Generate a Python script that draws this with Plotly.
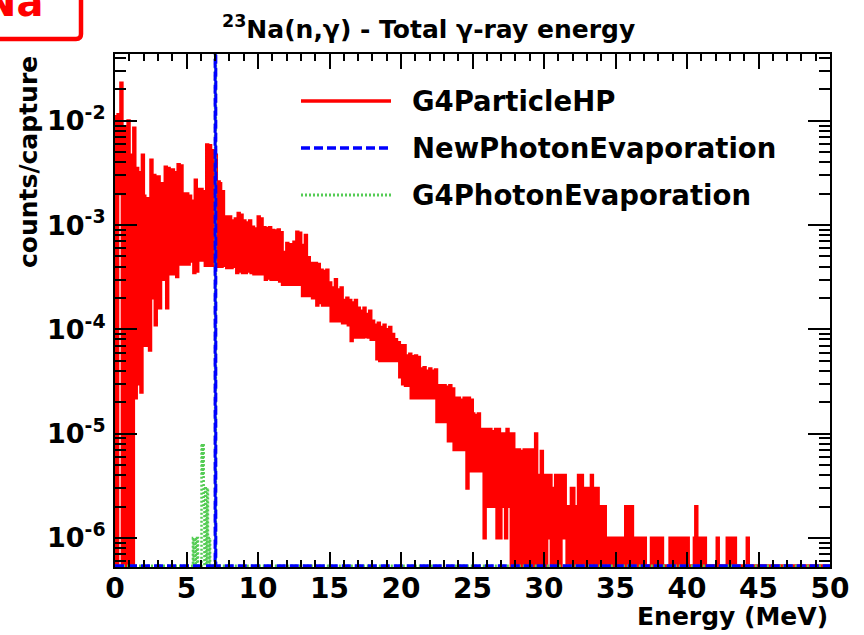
import numpy as np
import plotly.graph_objects as go

# ---------------------------------------------------------------------------
# Total gamma-ray energy per capture, 23Na(n,gamma)
# ---------------------------------------------------------------------------
E_MIN, E_MAX = 0.0, 50.0
HP_BIN = 0.1          # MeV, G4ParticleHP histogram binning
PE_BIN = 0.05         # MeV, photon-evaporation histogram binning

# G4ParticleHP: counts/capture, one row per MeV (10 bins of 0.1 MeV each)
hp_counts = [
    1.1e-2, 0, 1.15e-2, 2e-3, 2.3e-2, 0, 6e-3, 8.8e-3, 0, 1e-2,                      # 0
    0, 4.7e-3, 0, 8.5e-3, 2.2e-5, 3.5e-3, 3e-5, 3.2e-3, 2.5e-5, 4.7e-3,              # 1
    1.9e-3, 7e-5, 1.8e-3, 1.2e-4, 6.3e-5, 4.2e-3, 2e-4, 3e-3, 1.1e-4, 2.9e-3,        # 2
    2.9e-3, 1.6e-4, 2.5e-3, 2.4e-3, 3e-4, 3.6e-3, 1.6e-4, 3.5e-3, 3.4e-4, 3.3e-3,    # 3
    3.4e-3, 3.4e-4, 3.2e-3, 3.2e-4, 3.8e-3, 4.2e-4, 3.7e-3, 2e-3, 4.2e-4, 1.9e-3,    # 4
    2e-3, 4.2e-4, 1.9e-3, 4.5e-4, 1.7e-3, 3.5e-4, 2.7e-3, 3.6e-4, 2.2e-3, 4.6e-4,    # 5
    2.2e-3, 4.6e-4, 2.1e-3, 4.1e-4, 5.9e-3, 4.1e-4, 5.8e-3, 3.6e-3, 4.1e-4, 5.2e-3,  # 6
    4.7e-3, 4e-4, 2.6e-3, 2.5e-3, 4e-4, 2.1e-3, 4.1e-4, 1.2e-3, 3.9e-4, 1.1e-3,      # 7
    1.2e-3, 3.9e-4, 1.1e-3, 4e-4, 1.15e-3, 3.5e-4, 1.3e-3, 3.6e-4, 1.25e-3, 3.5e-4,  # 8
    1.1e-3, 3.5e-4, 1.05e-3, 3.6e-4, 1.1e-3, 3.5e-4, 9.6e-4, 3.4e-4, 9.2e-4, 3.4e-4, # 9
    1.2e-3, 3.4e-4, 1.15e-3, 3.4e-4, 9.5e-4, 3e-4, 9.3e-4, 3.1e-4, 9.5e-4, 3e-4,     # 10
    8.9e-4, 3e-4, 8.8e-4, 3e-4, 9e-4, 2.9e-4, 8.5e-4, 2.7e-4, 5.5e-4, 2.7e-4,        # 11
    6.7e-4, 2.7e-4, 6.5e-4, 2.7e-4, 5.8e-4, 6.9e-4, 2.7e-4, 8.6e-4, 2.7e-4, 8.4e-4,  # 12
    6.4e-4, 2.1e-4, 6.2e-4, 8e-4, 2.1e-4, 4.9e-4, 2.1e-4, 4.3e-4, 2e-4, 4.2e-4,      # 13
    4.3e-4, 1.7e-4, 4.2e-4, 1.8e-4, 3.7e-4, 1.7e-4, 3.6e-4, 1.7e-4, 3.7e-4, 1.7e-4,  # 14
    2.8e-4, 1.2e-4, 2.5e-4, 1.2e-4, 3e-4, 1.2e-4, 2.4e-4, 1.2e-4, 2.5e-4, 1.15e-4,   # 15
    1.9e-4, 1.15e-4, 2e-4, 1.1e-4, 1.9e-4, 7.8e-5, 1.8e-4, 8.4e-5, 1.9e-4, 8.4e-5,   # 16
    1.6e-4, 8.4e-5, 1.5e-4, 8.4e-5, 1.6e-4, 8.5e-5, 1.4e-4, 8.4e-5, 1.5e-4, 8e-5,    # 17
    1.2e-4, 8e-5, 1.1e-4, 5.2e-5, 1.15e-4, 5e-5, 1.05e-4, 5e-5, 1.1e-4, 5e-5,        # 18
    1e-4, 5e-5, 1.05e-4, 5e-5, 9e-5, 5e-5, 8e-5, 5e-5, 7.5e-5, 3.5e-5,               # 19
    7e-5, 3e-5, 7e-5, 2.9e-5, 5.6e-5, 2.9e-5, 5.8e-5, 2.2e-5, 5.5e-5, 2.2e-5,        # 20
    5.6e-5, 2.2e-5, 5.4e-5, 2.2e-5, 4.2e-5, 2.2e-5, 4.3e-5, 2.2e-5, 4e-5, 2.2e-5,    # 21
    4.2e-5, 2.2e-5, 4e-5, 2.2e-5, 4.1e-5, 1.3e-5, 2.9e-5, 1.3e-5, 2.9e-5, 1.3e-5,    # 22
    2.9e-5, 1.3e-5, 2.8e-5, 8.5e-6, 2.9e-5, 8.5e-6, 2.7e-5, 7e-6, 2.2e-5, 7e-6,      # 23
    2.2e-5, 7e-6, 2.1e-5, 7e-6, 2.2e-5, 7e-6, 3e-6, 2.2e-5, 4.4e-6, 2.1e-5,          # 24
    1.55e-5, 4.4e-6, 1.5e-5, 4.4e-6, 1.55e-5, 4.4e-6, 1.1e-5, 4.4e-6, 1e-6, 1.1e-5,  # 25
    1.1e-5, 2e-6, 1.1e-5, 2e-6, 1.05e-5, 2e-6, 1.1e-5, 1e-6, 1.1e-5, 1e-6,           # 26
    1e-5, 2e-6, 1e-5, 1e-6, 1.1e-5, 2e-6, 1e-5, 0, 1e-5, 0,                          # 27
    7e-6, 0, 7e-6, 0, 6.8e-6, 0, 7e-6, 1e-6, 0, 7e-6,                                # 28
    0, 7e-6, 0, 4e-6, 1e-5, 0, 4e-6, 0, 6.8e-6, 0,                                   # 29
    4e-6, 0, 4e-6, 1e-6, 4e-6, 0, 3e-6, 0, 4e-6, 0,                                  # 30
    4e-6, 0, 4e-6, 1e-6, 4e-6, 2e-6, 0, 2e-6, 0, 3e-6,                               # 31
    3e-6, 0, 2e-6, 0, 4e-6, 0, 4e-6, 2e-6, 0, 3e-6,                                  # 32
    3e-6, 0, 3e-6, 4e-6, 0, 3e-6, 0, 3e-6, 1e-6, 0,                                  # 33
    2e-6, 0, 2e-6, 0, 1e-6, 0, 1e-6, 1e-6, 0, 1e-6,                                  # 34
    0, 1e-6, 0, 1e-6, 1e-6, 0, 1e-6, 2e-6, 0, 2e-6,                                  # 35
    0, 2e-6, 1e-6, 0, 1e-6, 0, 1e-6, 1e-6, 0, 1e-6,                                  # 36
    1e-6, 0, 0, 0, 0, 1e-6, 0, 1e-6, 1e-6, 0,                                        # 37
    1e-6, 0, 1e-6, 0, 0, 0, 0, 0, 1e-6, 0,                                           # 38
    1e-6, 0, 1e-6, 0, 0, 1e-6, 0, 1e-6, 0, 1e-6,                                     # 39
    1e-6, 0, 0, 0, 0, 1e-6, 2e-6, 0, 0, 1e-6,                                        # 40
    1e-6, 0, 1e-6, 0, 0, 0, 0, 0, 0, 0,                                              # 41
    0, 1e-6, 0, 0, 0, 0, 0, 0, 1e-6, 0,                                              # 42
    1e-6, 0, 0, 1e-6, 0, 0, 0, 0, 0, 0,                                              # 43
    0, 0, 1e-6, 0, 0, 0, 0, 0, 0, 0,                                                 # 44
    0, 0, 0, 0, 0, 0, 0, 0, 0, 0,                                                    # 45
    0, 0, 0, 0, 0, 0, 0, 0, 0, 0,                                                    # 46
    0, 0, 0, 0, 0, 0, 0, 0, 0, 0,                                                    # 47
    0, 0, 0, 0, 0, 0, 0, 0, 0, 0,                                                    # 48
    0, 0, 0, 0, 0, 0, 0, 0, 0, 0,                                                    # 49
]

# Photon evaporation models: only the non-empty bins (lower edge in MeV)
new_pe_edges = [7.0]
new_pe_counts = [1.0]

g4_pe_edges = [5.45, 5.6, 5.75, 6.05, 6.1, 6.15, 6.2, 6.3, 6.35, 6.45, 6.5, 6.6, 7.0]
g4_pe_counts = [1e-6, 1e-6, 1e-6, 8e-6, 4e-6, 8e-6, 2e-6, 3e-6, 2e-6, 3e-6, 1e-6, 1e-6, 0.98]

series_names = ["G4ParticleHP", "NewPhotonEvaporation", "G4PhotonEvaporation"]
series_colors = ["#ff0000", "#0000ff", "#55cc55"]

# y axis: decades and their labels
y_tick_vals = [1e-6, 1e-5, 1e-4, 1e-3, 1e-2]
y_tick_text = ["10<sup>-6</sup>", "10<sup>-5</sup>", "10<sup>-4</sup>",
               "10<sup>-3</sup>", "10<sup>-2</sup>"]
x_tick_vals = [0, 5, 10, 15, 20, 25, 30, 35, 40, 45, 50]

Y_LOG_RANGE = [-6.278, -1.36]
# empty bins are drawn along the lower frame edge, as ROOT does on log scale
FLOOR = 10 ** (Y_LOG_RANGE[0] + 0.012)


def dense_from_sparse(edges, counts, width):
    n = int(round((E_MAX - E_MIN) / width))
    dense = np.zeros(n)
    for e, c in zip(edges, counts):
        dense[int(round((e - E_MIN) / width))] = c
    return dense


def step_outline(counts, width):
    counts = np.maximum(np.asarray(counts, dtype=float), FLOOR)
    edges = E_MIN + width * np.arange(len(counts) + 1)
    xs = np.concatenate([[E_MIN], np.repeat(edges, 2)[1:-1], [E_MAX]])
    ys = np.concatenate([[FLOOR], np.repeat(counts, 2), [FLOOR]])
    return xs, ys


fig = go.Figure()

x_hp, y_hp = step_outline(hp_counts, HP_BIN)
fig.add_trace(go.Scatter(x=x_hp, y=y_hp, mode="lines", name=series_names[0],
                         line=dict(color=series_colors[0], width=3)))

x_g4, y_g4 = step_outline(dense_from_sparse(g4_pe_edges, g4_pe_counts, PE_BIN), PE_BIN)
fig.add_trace(go.Scatter(x=x_g4, y=y_g4, mode="lines", name=series_names[2],
                         line=dict(color=series_colors[2], width=2.5, dash="2px,2px")))

x_new, y_new = step_outline(dense_from_sparse(new_pe_edges, new_pe_counts, PE_BIN), PE_BIN)
fig.add_trace(go.Scatter(x=x_new, y=y_new, mode="lines", name=series_names[1],
                         line=dict(color=series_colors[1], width=3, dash="9px,4px")))

# ---------------------------------------------------------------------------
# layout
# ---------------------------------------------------------------------------
W, H = 864, 635
ML, MR, MT, MB = 115, 34, 54, 68
PW, PH = W - ML - MR, H - MT - MB
FONT = "DejaVu Sans"


def px_x(p):
    return (p - ML) / PW


def px_y(p):
    return (H - MB - p) / PH


minor_log_ticks = [k * 10.0 ** n for n in range(-7, -1) for k in range(2, 10)]

fig.update_layout(
    width=W, height=H,
    margin=dict(l=ML, r=MR, t=MT, b=MB),
    paper_bgcolor="white", plot_bgcolor="white",
    showlegend=False,
    font=dict(family=FONT, size=26, color="black", weight="bold"),
)

fig.update_xaxes(
    range=[E_MIN, E_MAX], tickmode="array", tickvals=x_tick_vals,
    ticks="inside", ticklen=15, tickwidth=2, tickcolor="black",
    minor=dict(dtick=1, ticks="inside", ticklen=7, tickwidth=1.5, tickcolor="black"),
    showline=True, linewidth=2, linecolor="black", mirror="allticks",
    showgrid=False, zeroline=False, ticklabelstandoff=-5,
    tickfont=dict(family=FONT, size=28, color="black", weight="bold"),
)

fig.update_yaxes(
    type="log", range=Y_LOG_RANGE, tickmode="array",
    tickvals=y_tick_vals, ticktext=y_tick_text,
    ticks="inside", ticklen=22, tickwidth=2, tickcolor="black",
    minor=dict(tickmode="array", tickvals=minor_log_ticks, ticks="inside", ticklen=11,
               tickwidth=1.5, tickcolor="black"),
    showline=True, linewidth=2, linecolor="black", mirror="allticks",
    showgrid=False, zeroline=False, ticklabelstandoff=2,
    tickfont=dict(family=FONT, size=27, color="black", weight="bold"),
)

# title and axis titles
fig.add_annotation(
    text="<sup>23</sup>Na(n,γ) - Total γ-ray energy",
    xref="paper", yref="paper", x=px_x(428), y=px_y(28),
    xanchor="center", yanchor="middle", showarrow=False,
    font=dict(family=FONT, size=25, color="black", weight="bold"),
)
fig.add_annotation(
    text="Energy (MeV)", xref="paper", yref="paper",
    x=px_x(830), y=px_y(616), xanchor="right", yanchor="middle", showarrow=False,
    font=dict(family=FONT, size=25, color="black", weight="bold"),
)
fig.add_annotation(
    text="counts/capture", xref="paper", yref="paper", textangle=-90,
    x=px_x(28), y=px_y(54), xanchor="center", yanchor="top", showarrow=False,
    font=dict(family=FONT, size=25, color="black", weight="bold"),
)

# legend: line samples drawn as shapes, labels as text
legend_rows = [101, 148, 195]
legend_dash = ["solid", "9px,4px", "2px,2px"]
legend_width = [3.5, 3.5, 3]
for name, color, yrow, dash, lw in zip(series_names, series_colors, legend_rows,
                                       legend_dash, legend_width):
    fig.add_shape(type="line", xref="paper", yref="paper",
                  x0=px_x(301), x1=px_x(391), y0=px_y(yrow), y1=px_y(yrow),
                  line=dict(color=color, width=lw, dash=dash))
    fig.add_annotation(text=name, xref="paper", yref="paper",
                       x=px_x(410), y=px_y(yrow), xanchor="left", yanchor="middle",
                       showarrow=False,
                       font=dict(family=FONT, size=27.5, color="black", weight="bold"))

# nucleus tag in the upper-left corner
fig.add_shape(type="path", xref="paper", yref="paper",
              path=(f"M {px_x(-10)},{px_y(39)} L {px_x(76)},{px_y(39)} "
                    f"Q {px_x(81)},{px_y(39)} {px_x(81)},{px_y(34)} "
                    f"L {px_x(81)},{px_y(-10)}"),
              line=dict(color="#ff0000", width=4.5))
fig.add_annotation(text="Na", xref="paper", yref="paper",
                   x=px_x(45), y=px_y(2), xanchor="right", yanchor="middle",
                   showarrow=False,
                   font=dict(family=FONT, size=40, color="#ff0000", weight="bold"))

fig.write_html("out.html")
